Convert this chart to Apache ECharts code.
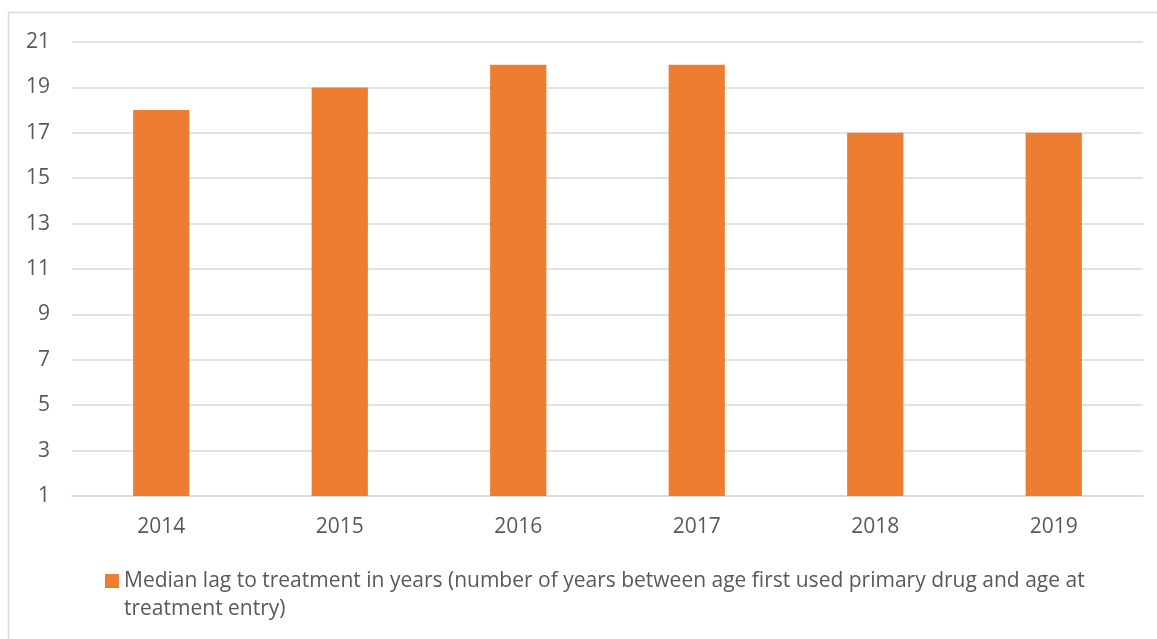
<!DOCTYPE html>
<html>
<head>
<meta charset="utf-8">
<script src="https://cdn.jsdelivr.net/npm/echarts@6/dist/echarts.min.js"></script>
<style>
html,body{margin:0;padding:0;background:#fff;}
#chart{width:1157px;height:639px;}
</style>
</head>
<body>
<div id="chart"></div>
<script>
var categories = ['2014', '2015', '2016', '2017', '2018', '2019'];
var values = [18, 19, 20, 20, 17, 17];
var yTicks = [1, 3, 5, 7, 9, 11, 13, 15, 17, 19, 21];
var seriesName = 'Median lag to treatment in years (number of years between age first used primary drug and age at\ntreatment entry)';

var font = 'Open Sans';
var textColor = '#595959';

var chart = echarts.init(document.getElementById('chart'));
chart.setOption({
  animation: false,
  backgroundColor: '#fff',
  graphic: [{
    type: 'rect',
    shape: { x: 8.5, y: 12.5, width: 1200, height: 700 },
    style: { fill: 'none', stroke: '#D9D9D9', lineWidth: 1.5 },
    silent: true
  }],
  grid: { left: 72, right: 14, top: 42, bottom: 143, containLabel: false },
  legend: {
    left: 105,
    top: 539,
    padding: 0,
    icon: 'rect',
    itemWidth: 14,
    itemHeight: 14,
    formatter: function (name) { return ' \n' + name; },
    textStyle: {
      fontFamily: font,
      fontSize: 21,
      color: textColor,
      lineHeight: 28
    },
    data: [seriesName]
  },
  xAxis: {
    type: 'category',
    data: categories,
    axisLine: { show: true, lineStyle: { color: '#D9D9D9', width: 1.5 } },
    axisTick: { show: false },
    axisLabel: { fontFamily: font, fontSize: 21, color: textColor, margin: 21 }
  },
  yAxis: {
    type: 'value',
    min: yTicks[0],
    max: yTicks[yTicks.length - 1],
    axisLine: { show: false },
    axisTick: { show: false, customValues: yTicks },
    axisLabel: { fontFamily: font, fontSize: 21, color: textColor, margin: 22, customValues: yTicks },
    splitLine: { show: true, lineStyle: { color: '#D9D9D9', width: 1.5 } }
  },
  series: [{
    name: seriesName,
    type: 'bar',
    data: values,
    barWidth: '31.5%',
    itemStyle: { color: '#ED7D31' }
  }]
});
</script>
</body>
</html>
